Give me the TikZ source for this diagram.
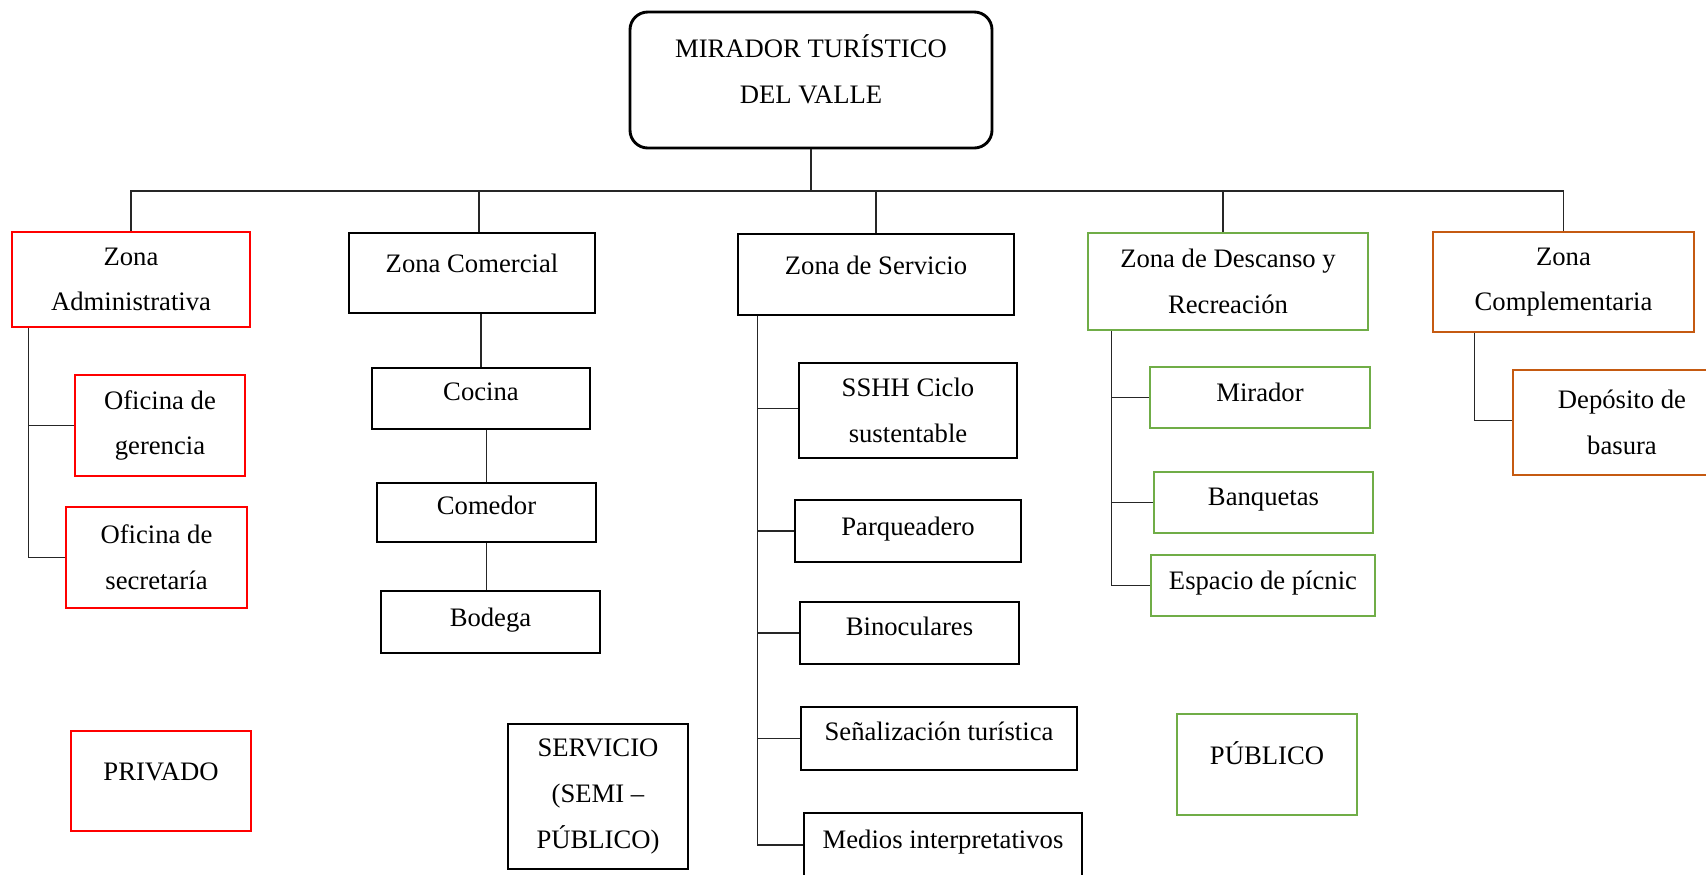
\documentclass[tikz,border=0pt]{standalone}
\usepackage{fontspec}
\setmainfont{Liberation Serif}
\usepackage{tikz}
\usetikzlibrary{calc}
\newlength{\px}
\setlength{\px}{0.45pt}
\definecolor{admred}{RGB}{255,0,0}
\definecolor{recgreen}{RGB}{112,173,71}
\definecolor{cplorange}{RGB}{197,90,17}
\tikzset{box/.style = {shape=rectangle,draw,inner sep=0pt,align=center,font=\fontsize{12}{20.5}\selectfont}}
\tikzset{black box/.style = {box,line width=1.3pt}}
\tikzset{red box/.style = {box,draw=admred,line width=1.1pt}}
\tikzset{green box/.style = {box,draw=recgreen,line width=1.1pt}}
\tikzset{orange box/.style = {box,draw=cplorange,line width=1.1pt}}
\tikzset{lift/.style = {text depth=#1}}
\tikzset{edge/.style = {line width=0.55pt,black!85}}

\begin{document}
\begin{tikzpicture}[x=\px,y=-\px]
        \clip (0,0) rectangle (1706,874);
        \node[black box,rounded corners=8pt,lift=10pt,minimum width=362\px,minimum height=136\px] (main) at (811,80) {MIRADOR TURÍSTICO\\DEL VALLE};
        \coordinate (bus) at (811,191);
        \draw[edge] (main) -- (bus);
        % zonas
        \node[red box,minimum width=238\px,minimum height=95\px] (zadm) at (131,279.5) {Zona\\Administrativa};
        \draw[edge] (bus) -| (zadm.north);
        \node[black box,lift=8.5pt,minimum width=246\px,minimum height=80\px] (zcom) at (472,273) {Zona Comercial};
        \draw[edge] (bus) -| ([xshift=7\px]zcom.north);
        \node[black box,lift=8.5pt,minimum width=276\px,minimum height=81\px] (zser) at (876,274.5) {Zona de Servicio};
        \draw[edge] (bus) -| (zser.north);
        \node[green box,minimum width=280\px,minimum height=97\px] (zdes) at (1228,281.5) {Zona de Descanso y\\Recreación};
        \draw[edge] (bus) -| ([xshift=-5\px]zdes.north);
        \node[orange box,minimum width=261\px,minimum height=100\px] (zcpl) at (1563.5,282) {Zona\\Complementaria};
        \draw[edge] (bus) -| (zcpl.north);
        % administrativa
        \node[red box,minimum width=170\px,minimum height=101\px] (ofger) at (160,425.5) {Oficina de\\gerencia};
        \draw[edge] ([xshift=18\px]zadm.south west) |- (ofger.west);
        \node[red box,minimum width=181\px,minimum height=101\px] (ofsec) at (156.5,557.5) {Oficina de\\secretaría};
        \draw[edge] ([xshift=18\px]zadm.south west) |- (ofsec.west);
        % comercial
        \node[black box,lift=6.5pt,minimum width=218\px,minimum height=61\px] (cocina) at (481,398.5) {Cocina};
        \draw[edge] (cocina.north) -- (cocina.north |- zcom.south);
        \node[black box,lift=6.5pt,minimum width=219\px,minimum height=59\px] (comedor) at (486.5,512.5) {Comedor};
        \draw[edge] (comedor.north) -- (comedor.north |- cocina.south);
        \node[black box,lift=4pt,minimum width=219\px,minimum height=62\px] (bodega) at (490.5,622) {Bodega};
        \draw[edge] ([xshift=-4\px]bodega.north) -- ([xshift=-4\px]bodega.north |- comedor.south);
        % servicio
        \node[black box,minimum width=218\px,minimum height=95\px] (sshh) at (908,410.5) {SSHH Ciclo\\sustentable};
        \draw[edge] ([xshift=21\px]zser.south west) |- ([yshift=2\px]sshh.west);
        \node[black box,lift=4pt,minimum width=226\px,minimum height=62\px] (parq) at (908,531) {Parqueadero};
        \draw[edge] ([xshift=21\px]zser.south west) |- (parq.west);
        \node[black box,lift=6.5pt,minimum width=219\px,minimum height=62\px] (bino) at (909.5,633) {Binoculares};
        \draw[edge] ([xshift=21\px]zser.south west) |- (bino.west);
        \node[black box,lift=7pt,minimum width=276\px,minimum height=63\px] (senal) at (939,738.5) {Señalización turística};
        \draw[edge] ([xshift=21\px]zser.south west) |- (senal.west);
        \node[black box,lift=5pt,minimum width=278\px,minimum height=64\px] (medios) at (943,845) {Medios interpretativos};
        \draw[edge] ([xshift=21\px]zser.south west) |- (medios.west);
        % descanso
        \node[green box,lift=5pt,minimum width=220\px,minimum height=61\px] (mirador) at (1260,397.5) {Mirador};
        \draw[edge] ([xshift=25\px]zdes.south west) |- (mirador.west);
        \node[green box,lift=5pt,minimum width=219\px,minimum height=61\px] (banq) at (1263.5,502.5) {Banquetas};
        \draw[edge] ([xshift=25\px]zdes.south west) |- (banq.west);
        \node[green box,lift=5pt,minimum width=224\px,minimum height=61\px] (picnic) at (1263,585.5) {Espacio de pícnic};
        \draw[edge] ([xshift=25\px]zdes.south west) |- (picnic.west);
        % complementaria
        \node[orange box,minimum width=218\px,minimum height=105\px] (depo) at (1622,422.5) {Depósito de\\basura};
        \draw[edge] ([xshift=43\px]zcpl.south west) |- ([yshift=2\px]depo.west);
        % leyenda
        \node[red box,lift=8.5pt,minimum width=180\px,minimum height=100\px] (priv) at (161,781) {PRIVADO};
        \node[black box,minimum width=180\px,minimum height=145\px] (semi) at (598,796.5) {SERVICIO\\(SEMI –\\PÚBLICO)};
        \node[green box,lift=10pt,minimum width=180\px,minimum height=101\px] (pub) at (1267,764.5) {PÚBLICO};
    \end{tikzpicture}
\end{document}
